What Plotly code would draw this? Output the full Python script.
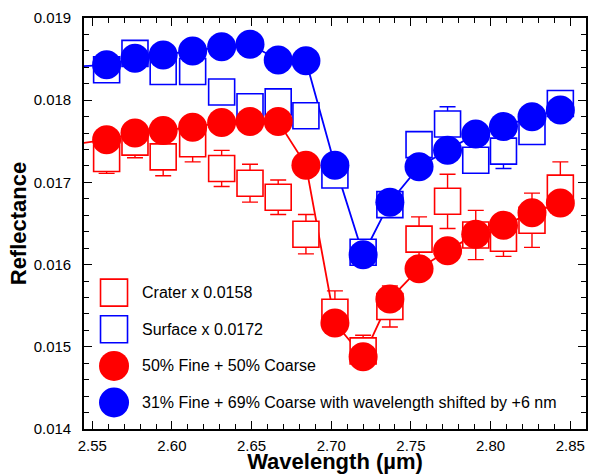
import plotly.graph_objects as go

# ---- data ----
wavelength = [2.5590, 2.5768, 2.5945, 2.6130, 2.6312, 2.6490, 2.6667, 2.6841,
              2.7023, 2.7200, 2.7368, 2.7551, 2.7730, 2.7907, 2.8081, 2.8260, 2.8438]

crater = [0.01729, 0.01749, 0.01731, 0.01747, 0.01717, 0.01699, 0.01682, 0.01637,
          0.01542, 0.01495, 0.01549, 0.01631, 0.01677, 0.01636, 0.01632, 0.01654, 0.01693]
crater_err = [0.00018, 0.00019, 0.00023, 0.00022, 0.00022, 0.00023, 0.00021, 0.00024,
              0.00026, 0.00019, 0.00025, 0.00027, 0.00033, 0.00030, 0.00022, 0.00033, 0.00032]

surface = [0.01837, 0.01857, 0.01835, 0.01835, 0.01810, 0.01792, 0.01798, 0.01781,
           0.01709, 0.01615, 0.01673, 0.01746, 0.01771, 0.01727, 0.01738, 0.01762, 0.01796]
surface_err = [0.00012, 0.00012, 0.00012, 0.00012, 0.00012, 0.00012, 0.00012, 0.00012,
               0.00012, 0.00012, 0.00012, 0.00012, 0.00021, 0.00012, 0.00021, 0.00012, 0.00012]

model_50 = [0.01752, 0.01760, 0.01763, 0.01767, 0.01773, 0.01774, 0.01774, 0.01721,
            0.01529, 0.01488, 0.01558, 0.01595, 0.01617, 0.01637, 0.01648, 0.01663, 0.01675]
model_31 = [0.01843, 0.01851, 0.01855, 0.01860, 0.01865, 0.01868, 0.01849, 0.01848,
            0.01721, 0.01612, 0.01676, 0.01719, 0.01739, 0.01759, 0.01768, 0.01780, 0.01788]

# model curves start just left of the first band
model_edge_wavelength = [2.541]
model_50_edge = [0.01747]
model_31_edge = [0.01841]

legend_labels = ["Crater x 0.0158", "Surface x 0.0172",
                 "50% Fine + 50% Coarse",
                 "31% Fine + 69% Coarse with wavelength shifted by +6 nm"]

RED = "#ff0000"
BLUE = "#0000ff"

fig = go.Figure()

# model lines (below everything)
fig.add_trace(go.Scatter(x=model_edge_wavelength + wavelength, y=model_50_edge + model_50,
                         mode="lines", line=dict(color=RED, width=1.8),
                         showlegend=False, hoverinfo="skip"))
fig.add_trace(go.Scatter(x=model_edge_wavelength + wavelength, y=model_31_edge + model_31,
                         mode="lines", line=dict(color=BLUE, width=1.8),
                         showlegend=False, hoverinfo="skip"))

# observed spectra: open (white filled) squares with error bars
fig.add_trace(go.Scatter(x=wavelength, y=crater, mode="markers",
                         marker=dict(symbol="square", size=26, color="white",
                                     line=dict(color=RED, width=1.6)),
                         error_y=dict(type="data", array=crater_err, color=RED,
                                      thickness=1.4, width=8),
                         showlegend=False))
fig.add_trace(go.Scatter(x=wavelength, y=surface, mode="markers",
                         marker=dict(symbol="square", size=26, color="white",
                                     line=dict(color=BLUE, width=1.6)),
                         error_y=dict(type="data", array=surface_err, color=BLUE,
                                      thickness=1.4, width=8),
                         showlegend=False))

# model points: filled circles
fig.add_trace(go.Scatter(x=wavelength, y=model_50, mode="markers",
                         marker=dict(symbol="circle", size=29, color=RED,
                                     line=dict(width=0)),
                         showlegend=False))
fig.add_trace(go.Scatter(x=wavelength, y=model_31, mode="markers",
                         marker=dict(symbol="circle", size=29, color=BLUE,
                                     line=dict(width=0)),
                         showlegend=False))

# ---- hand-made legend (large symbols) ----
leg_x = 0.0598
leg_text_x = 0.1116
leg_y = [0.3319, 0.2428, 0.1534, 0.0645]
leg_kind = ["rect", "rect", "circle", "circle"]
leg_col = [RED, BLUE, RED, BLUE]
shapes = []
annotations = []
for lab, yy, kind, col in zip(legend_labels, leg_y, leg_kind, leg_col):
    if kind == "rect":
        shapes.append(dict(type="rect", xref="paper", yref="paper",
                           xsizemode="pixel", ysizemode="pixel",
                           xanchor=leg_x, yanchor=yy,
                           x0=-13.5, x1=13.5, y0=-13.5, y1=13.5,
                           line=dict(color=col, width=1.6), fillcolor="white"))
    else:
        shapes.append(dict(type="circle", xref="paper", yref="paper",
                           xsizemode="pixel", ysizemode="pixel",
                           xanchor=leg_x, yanchor=yy,
                           x0=-15, x1=15, y0=-15, y1=15,
                           line=dict(color=col, width=0), fillcolor=col))
    annotations.append(dict(text=lab, xref="paper", yref="paper",
                            x=leg_text_x, y=yy, xanchor="left", yanchor="middle",
                            showarrow=False,
                            font=dict(family="Liberation Sans, Arial", size=16,
                                      color="black")))

axis_common = dict(showline=True, linecolor="black", linewidth=1.6, mirror="allticks",
                   ticks="inside", tickcolor="black", showgrid=False, zeroline=False,
                   tickfont=dict(family="Liberation Sans, Arial", size=15, color="black"))

fig.update_layout(
    width=589, height=474,
    margin=dict(l=84, r=3, t=18, b=45),
    paper_bgcolor="white", plot_bgcolor="white",
    shapes=shapes, annotations=annotations,
    showlegend=False,
    xaxis=dict(range=[2.5448, 2.8599], tick0=2.55, dtick=0.05, tickformat=".2f",
               ticklen=8, tickwidth=1.2, ticklabelstandoff=2,
               minor=dict(dtick=0.01, ticklen=5, ticks="inside", tickcolor="black",
                          tickwidth=1),
               title=dict(text="Wavelength (µm)", standoff=5,
                          font=dict(family="Liberation Sans, Arial", size=22,
                                    color="black", weight="bold")),
               automargin=False, **axis_common),
    yaxis=dict(range=[0.014, 0.019], tick0=0.014, dtick=0.001, tickformat=".3f",
               ticklen=8, tickwidth=1.2, ticklabelstandoff=8,
               minor=dict(dtick=0.0002, ticklen=5, ticks="inside", tickcolor="black",
                          tickwidth=1),
               title=dict(text="Reflectance", standoff=1,
                          font=dict(family="Liberation Sans, Arial", size=22,
                                    color="black", weight="bold")),
               automargin=False, **axis_common),
)

fig.write_html("out.html")
